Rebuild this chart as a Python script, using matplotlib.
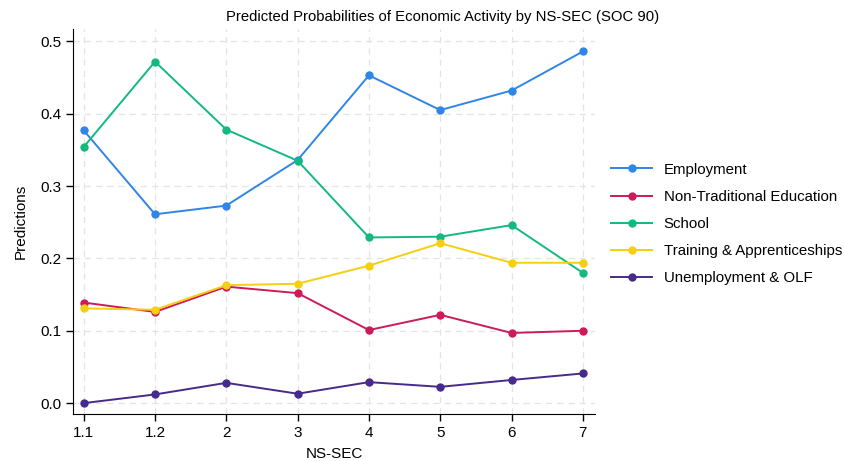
import matplotlib
matplotlib.use("Agg")
import matplotlib.pyplot as plt
import numpy as np

plt.rcParams['font.family'] = ['Liberation Sans', 'DejaVu Sans']

nssec = ['1.1', '1.2', '2', '3', '4', '5', '6', '7']
employment = [0.377, 0.261, 0.273, 0.336, 0.453, 0.405, 0.432, 0.486]
non_trad = [0.139, 0.126, 0.161, 0.152, 0.101, 0.122, 0.097, 0.100]
school = [0.354, 0.472, 0.378, 0.335, 0.229, 0.230, 0.246, 0.180]
training = [0.131, 0.129, 0.163, 0.165, 0.190, 0.221, 0.194, 0.194]
unemp = [0.000, 0.012, 0.028, 0.013, 0.029, 0.0225, 0.032, 0.041]

series = [
    ('Employment', employment, '#2f86e6'),
    ('Non-Traditional Education', non_trad, '#cc1a5a'),
    ('School', school, '#12b981'),
    ('Training & Apprenticeships', training, '#f5cf10'),
    ('Unemployment & OLF', unemp, '#472a8a'),
]

fig = plt.figure(figsize=(8.44, 4.61), dpi=100)
ax = fig.add_axes([0.0865, 0.102, 0.6185, 0.835])

x = np.arange(len(nssec))
for name, vals, col in series:
    ax.plot(x, vals, color=col, linewidth=1.4, marker='o', markersize=5, label=name)

ax.set_xlim(-0.15, 7.17)
ax.set_ylim(-0.015, 0.517)
ax.set_xticks(x)
ax.set_xticklabels(nssec)
ax.set_yticks([0.0, 0.1, 0.2, 0.3, 0.4, 0.5])
ax.set_yticklabels(['0.0', '0.1', '0.2', '0.3', '0.4', '0.5'])
ax.tick_params(labelsize=11, length=5, width=1)
ax.grid(True, linestyle=(0, (5, 4)), color='#e4e4e4', linewidth=0.9)
ax.set_axisbelow(True)
for s in ['top', 'right']:
    ax.spines[s].set_visible(False)

fig.text(0.524, 0.963, 'Predicted Probabilities of Economic Activity by NS-SEC (SOC 90)',
         fontsize=10.7, ha='center', va='center')
ax.set_xlabel('NS-SEC', fontsize=11, labelpad=5)
ax.set_ylabel('Predictions', fontsize=11, labelpad=9)

fig.legend(loc='center left', bbox_to_anchor=(0.724, 0.514), frameon=False,
           fontsize=10.8, handlelength=2.75, handletextpad=0.75, labelspacing=0.88,
           borderaxespad=0, borderpad=0)

fig.savefig('out.png', dpi=100)
